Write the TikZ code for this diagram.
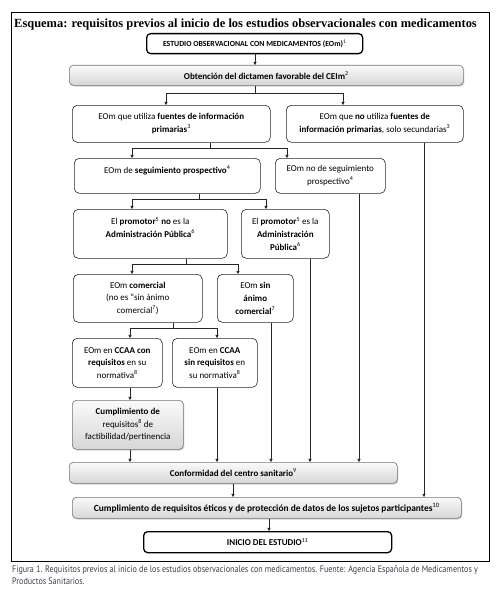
\documentclass[tikz,border=0pt]{standalone}
\usepackage{fontspec}
\setmainfont{Carlito}
\newfontfamily\titlefont{Liberation Serif}
\newfontfamily\capfont[FakeStretch=0.86]{PT Sans}
\usetikzlibrary{arrows.meta,shadows}
\definecolor{capcol}{RGB}{60,62,72}
\begin{document}
\begin{tikzpicture}[x=1pt,y=-1pt,
  every node/.style={font=\fontsize{9}{12.7}\selectfont, align=center, inner sep=2pt},
  plainbox/.style={draw=black!85, line width=0.6pt, rounded corners=5pt, fill=white, anchor=north west},
  thickbox/.style={draw=black, line width=1.3pt, rounded corners=4pt, fill=white, anchor=north west},
  graybox/.style={draw=black!55, line width=0.6pt, rounded corners=4pt, top color=gray!4, bottom color=gray!32,
     drop shadow={opacity=0.35, shadow xshift=1pt, shadow yshift=-1.2pt}, anchor=north west},
  arr/.style={draw=black!85, line width=0.6pt, -{Triangle[length=3.2pt,width=3.2pt]}},
  ln/.style={draw=black!85, line width=0.6pt}]
\useasboundingbox (0,0) rectangle (500,610);
\draw[line width=0.9pt] (11,12) rectangle (489,561);
\node[font=\titlefont\bfseries\fontsize{12.45}{14}\selectfont, anchor=base west, inner sep=0pt] (title) at (14,28)
  {Esquema: requisitos previos al inicio de los estudios observacionales con medicamentos};

\node[thickbox, minimum width=216pt, minimum height=20pt, font=\fontsize{7.8}{10}\selectfont] (b1) at (146,33)
  {\textbf{ESTUDIO OBSERVACIONAL CON MEDICAMENTOS (EOm)}\textsuperscript{1}};
\node[graybox, minimum width=394pt, minimum height=20pt] (b2) at (69,65)
  {\textbf{Obtención del dictamen favorable del CEIm}\textsuperscript{2}};
\node[plainbox, minimum width=198pt, minimum height=37pt] (b3) at (72,105)
  {EOm que utiliza \textbf{fuentes de información}\\ \textbf{primarias}\textsuperscript{3}};
\node[plainbox, minimum width=177pt, minimum height=37pt] (b4) at (286,105)
  {EOm que \textbf{no} utiliza \textbf{fuentes de}\\ \textbf{información primarias}, solo secundarias\textsuperscript{3}};
\node[plainbox, minimum width=186pt, minimum height=35pt] (b5) at (74,158)
  {EOm de \textbf{seguimiento prospectivo}\textsuperscript{4}\\ \mbox{}};
\node[plainbox, minimum width=110pt, minimum height=35pt] (b6) at (275,158)
  {EOm no de seguimiento\\ prospectivo\textsuperscript{4}};
\node[plainbox, minimum width=154pt, minimum height=49pt] (b7) at (73,209)
  {El \textbf{promotor}\textsuperscript{5} \textbf{no} es la\\ \textbf{Administración Pública}\textsuperscript{6}\\ \mbox{}};
\node[plainbox, minimum width=88pt, minimum height=49pt] (b8) at (241,209)
  {El \textbf{promotor}\textsuperscript{5} es la\\ \textbf{Administración}\\ \textbf{Pública}\textsuperscript{6}};
\node[plainbox, minimum width=129pt, minimum height=48pt] (b9) at (73,274)
  {EOm \textbf{comercial}\\ (no es “sin ánimo\\ comercial\textsuperscript{7})};
\node[plainbox, minimum width=76pt, minimum height=48pt] (b10) at (217,274)
  {EOm \textbf{sin}\\ \textbf{ánimo}\\ \textbf{comercial}\textsuperscript{7}};
\node[plainbox, minimum width=90pt, minimum height=49pt] (b11) at (72,338)
  {EOm en \textbf{CCAA con}\\ \textbf{requisitos} en su\\ normativa\textsuperscript{8}};
\node[plainbox, minimum width=85pt, minimum height=49pt] (b12) at (172,338)
  {EOm en \textbf{CCAA}\\ \textbf{sin requisitos} en\\ su normativa\textsuperscript{8}};
\node[graybox, minimum width=111pt, minimum height=49pt] (b13) at (72,400)
  {\textbf{Cumplimiento de}\\ requisitos\textsuperscript{8} de\\ factibilidad/pertinencia};
\node[graybox, minimum width=328pt, minimum height=21pt] (b14) at (69,462)
  {\textbf{Conformidad del centro sanitario}\textsuperscript{9}};
\node[graybox, minimum width=389pt, minimum height=21pt, font=\fontsize{9.4}{12}\selectfont] (b15) at (72,497)
  {\textbf{Cumplimiento de requisitos éticos y de protección de datos de los sujetos participantes}\textsuperscript{10}};
\node[thickbox, minimum width=248pt, minimum height=21pt] (b16) at (143,531)
  {\textbf{INICIO DEL ESTUDIO}\textsuperscript{11}};

% connectors
\draw[arr] (b1.south -| 255,0) -- (b2.north -| 255,0);
\coordinate (j1) at (255,93);
\draw[ln] (b2.south -| j1) -- (j1);
\draw[arr] (j1) -| (b3.north -| 166,0);
\draw[arr] (j1) -| (b4.north -| 343,0);
\coordinate (j2) at (210,148);
\draw[ln] (b3.south -| j2) -- (j2);
\draw[arr] (j2) -| (b5.north -| 132,0);
\draw[arr] (j2) -| (b6.north -| 287,0);
\draw[arr] (b4.south -| 424,0) -- (b15.north -| 424,0);
\coordinate (j3) at (199,199);
\draw[ln] (b5.south -| j3) -- (j3);
\draw[arr] (j3) -| (b7.north -| 132,0);
\draw[arr] (j3) -| (b8.north -| 266,0);
\draw[arr] (b6.south -| 359,0) -- (b14.north -| 359,0);
\coordinate (j4) at (186,264);
\draw[ln] (b7.south -| j4) -- (j4);
\draw[arr] (j4) -| (b9.north -| 132,0);
\draw[arr] (j4) -| (b10.north -| 238,0);
\draw[arr] (b8.south -| 310,0) -- (b14.north -| 310,0);
\coordinate (j5) at (173,328);
\draw[ln] (b9.south -| j5) -- (j5);
\draw[arr] (j5) -| (b11.north -| 130,0);
\draw[arr] (j5) -| (b12.north -| 217,0);
\draw[arr] (b10.south -| 271,0) -- (b14.north -| 271,0);
\draw[arr] (b11.south -| 130,0) -- (b13.north -| 130,0);
\draw[arr] (b12.south -| 217,0) -- (b14.north -| 217,0);
\draw[arr] (b13.south -| 130,0) -- (b14.north -| 130,0);
\draw[arr] (b14.south -| 233,0) -- (b15.north -| 233,0);
\draw[arr] (b15.south -| 269,0) -- (b16.north -| 269,0);

% caption
\node[font=\capfont\fontsize{9.4}{12}\selectfont, color=capcol, anchor=base west, align=left, inner sep=0pt] (cap) at (12,584)
  {Figura 1. Requisitos previos al inicio de los estudios observacionales con medicamentos. Fuente: Agencia Española de Medicamentos y\\ Productos Sanitarios.};
\end{tikzpicture}
\end{document}
